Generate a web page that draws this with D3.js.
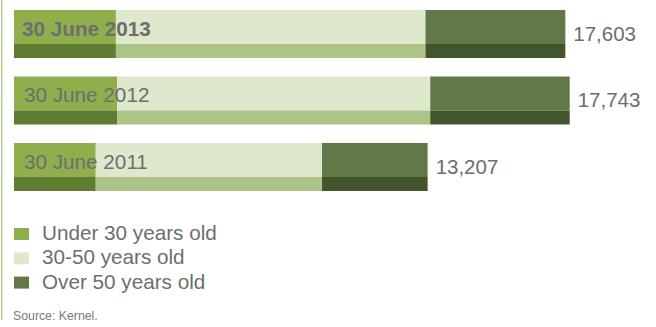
<!DOCTYPE html>
<html>
<head>
<meta charset="utf-8">
<script src="https://cdn.jsdelivr.net/npm/d3@7"></script>
<style>
  html, body { margin: 0; padding: 0; background: #fff; }
  svg { display: block; font-family: Helvetica, "Liberation Sans", Arial, sans-serif; }
</style>
</head>
<body>
<svg id="chart" width="656" height="327"></svg>
<script>
// Headcount by age group at each reporting date
const dates = ["30 June 2013", "30 June 2012", "30 June 2011"];
const under30 = [3254, 3293, 2610];
const age30to50 = [9884, 9997, 7225];
const over50 = [4465, 4453, 3372];
const totals = [17603, 17743, 13207];
const seriesNames = ["Under 30 years old", "30-50 years old", "Over 50 years old"];
const sourceNote = "Source: Kernel.";

// Each age group: main fill and the darker strip along the bottom of the bar
const fills = ["#8fae4c", "#dee8cc", "#637848"];
const strips = ["#5f7d30", "#acc485", "#42552d"];
const textGrey = "#6e6e6e";

const svg = d3.select("#chart");

const rows = dates.map((d, i) => ({
  date: d,
  total: totals[i],
  values: [under30[i], age30to50[i], over50[i]]
}));

const x = d3.scaleLinear().domain([0, 17743]).range([14, 569.7]);
const y = d3.scaleBand().domain(dates).range([10, 191]).paddingInner(0.278);

// Thin rule on the left edge
svg.append("rect")
  .attr("x", 1).attr("y", 0)
  .attr("width", 1.5).attr("height", 320)
  .attr("fill", "#b5cf8d");

const stripTop = 34;
const bar = svg.selectAll("g.bar")
  .data(rows)
  .join("g")
  .attr("class", "bar")
  .attr("transform", d => `translate(0,${y(d.date)})`);

bar.each(function (row) {
  const g = d3.select(this);
  const segs = d3.stack().keys([0, 1, 2])([row.values]).map((s, k) => ({
    k, x0: s[0][0], x1: s[0][1]
  }));
  g.selectAll("rect.main")
    .data(segs)
    .join("rect")
    .attr("class", "main")
    .attr("x", s => x(s.x0))
    .attr("width", s => x(s.x1) - x(s.x0))
    .attr("y", 0)
    .attr("height", stripTop)
    .attr("fill", s => fills[s.k]);
  g.selectAll("rect.strip")
    .data(segs)
    .join("rect")
    .attr("class", "strip")
    .attr("x", s => x(s.x0))
    .attr("width", s => x(s.x1) - x(s.x0))
    .attr("y", stripTop)
    .attr("height", y.bandwidth() - stripTop)
    .attr("fill", s => strips[s.k]);
});

// Date label inside each bar; the latest year in bold
bar.append("text")
  .attr("x", (d, i) => i === 0 ? 22 : 24)
  .attr("y", 26)
  .attr("font-size", 20.7)
  .attr("font-weight", (d, i) => i === 0 ? "bold" : "normal")
  .attr("fill", textGrey)
  .text(d => d.date);

// Total at the end of each bar
bar.append("text")
  .attr("x", d => x(d.total) + 8)
  .attr("y", y.bandwidth() / 2 + 7)
  .attr("font-size", 20.5)
  .attr("fill", textGrey)
  .text(d => d3.format(",")(d.total));

// Legend
const legend = svg.selectAll("g.legend")
  .data(seriesNames)
  .join("g")
  .attr("class", "legend")
  .attr("transform", (d, i) => `translate(14,${228 + i * 24.3})`);

legend.append("rect")
  .attr("width", 15).attr("height", 12)
  .attr("fill", (d, i) => fills[i]);

legend.append("text")
  .attr("x", 28)
  .attr("y", 12)
  .attr("font-size", 20.7)
  .attr("fill", textGrey)
  .text(d => d);

svg.append("text")
  .attr("x", 13)
  .attr("y", 320)
  .attr("font-size", 12.3)
  .attr("fill", "#7a7a7a")
  .text(sourceNote);
</script>
</body>
</html>
